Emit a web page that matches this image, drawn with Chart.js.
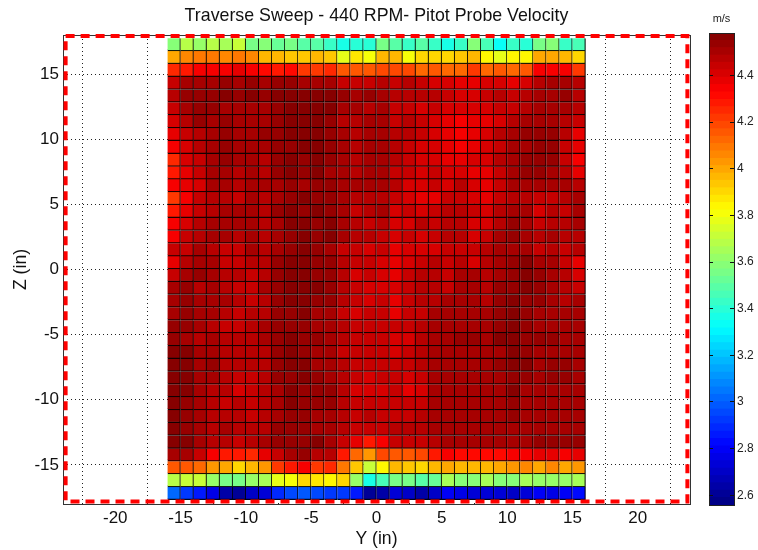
<!DOCTYPE html>
<html><head><meta charset="utf-8">
<script src="https://cdn.jsdelivr.net/npm/chart.js@4/dist/chart.umd.min.js"></script>
<style>html,body{margin:0;padding:0;background:#fff;overflow:hidden}
#wrap{position:relative;width:758px;height:550px}
canvas{position:absolute;top:0}
#main{left:0}#bar{left:698px}</style></head>
<body><div id="wrap"><canvas id="main" width="758" height="550"></canvas><canvas id="bar" width="60" height="550"></canvas></div>
<script>
const titleText = "Traverse Sweep - 440 RPM- Pitot Probe Velocity";
const xLabel = "Y (in)", yLabel = "Z (in)", unitLabel = "m/s";
const xTicks = [-20,-15,-10,-5,0,5,10,15,20];
const yTicks = [-15,-10,-5,0,5,10,15];
const cbTicks = [2.6,2.8,3,3.2,3.4,3.6,3.8,4,4.2,4.4];
const colorMin = 2.558, colorMax = 4.582;
const yCenters = [-15.5,-14.5,-13.5,-12.5,-11.5,-10.5,-9.5,-8.5,-7.5,-6.5,-5.5,-4.5,-3.5,-2.5,-1.5,-0.5,0.5,1.5,2.5,3.5,4.5,5.5,6.5,7.5,8.5,9.5,10.5,11.5,12.5,13.5,14.5,15.5];
const zEdges = [17.76,16.78,15.79,14.81,13.82,12.84,11.86,10.87,9.89,8.90,7.92,6.94,5.95,4.97,3.98,3.00,2.02,1.03,0.05,-0.94,-1.92,-2.90,-3.89,-4.87,-5.86,-6.84,-7.82,-8.81,-9.79,-10.78,-11.76,-12.74,-13.73,-14.71,-15.70,-16.68,-17.66];
const boxX = [-23.8,23.8,23.8,-23.8,-23.8];
const boxZ = [17.92,17.92,-17.8,-17.8,17.92];
const cbEdges = [2.558,2.590,2.621,2.653,2.684,2.716,2.748,2.779,2.811,2.843,2.874,2.906,2.938,2.969,3.001,3.032,3.064,3.096,3.127,3.159,3.191,3.222,3.254,3.285,3.317,3.349,3.380,3.412,3.444,3.475,3.507,3.538,3.570,3.602,3.633,3.665,3.697,3.728,3.760,3.791,3.823,3.855,3.886,3.918,3.950,3.981,4.013,4.044,4.076,4.108,4.139,4.171,4.203,4.234,4.266,4.297,4.329,4.361,4.392,4.424,4.456,4.487,4.519,4.550,4.582];

const row01=[3.60,3.69,3.63,3.69,3.66,3.70,3.56,3.58,3.52,3.55,3.50,3.49,3.44,3.38,3.40,3.40,3.55,3.49,3.44,3.49,3.43,3.38,3.44,3.58,3.46,3.32,3.42,3.40,3.56,3.58,3.42,3.46];
const row02=[3.99,4.05,4.09,4.08,4.07,4.10,4.05,3.97,3.96,3.94,3.93,3.95,3.94,3.78,3.86,3.82,3.95,3.97,3.82,3.90,3.90,3.89,3.93,3.95,3.85,3.78,3.83,3.83,4.00,4.01,3.98,3.91];
const row03=[4.24,4.28,4.36,4.36,4.36,4.37,4.33,4.30,4.29,4.30,4.21,4.21,4.26,4.17,4.16,4.17,4.20,4.19,4.18,4.13,4.14,4.13,4.11,4.22,4.13,4.16,4.13,4.17,4.33,4.34,4.34,4.23];
const row04=[4.44,4.49,4.50,4.51,4.52,4.51,4.53,4.50,4.52,4.53,4.51,4.51,4.50,4.45,4.44,4.45,4.47,4.44,4.46,4.43,4.42,4.41,4.39,4.37,4.40,4.41,4.39,4.41,4.47,4.50,4.50,4.46];
const row05=[4.46,4.53,4.53,4.52,4.56,4.53,4.56,4.55,4.58,4.58,4.57,4.57,4.56,4.52,4.51,4.53,4.51,4.48,4.47,4.46,4.46,4.45,4.42,4.42,4.44,4.46,4.44,4.48,4.50,4.51,4.54,4.47];
const row06=[4.43,4.50,4.52,4.52,4.51,4.50,4.51,4.51,4.54,4.57,4.57,4.57,4.56,4.50,4.49,4.48,4.49,4.45,4.45,4.42,4.43,4.40,4.40,4.40,4.42,4.44,4.45,4.48,4.49,4.51,4.49,4.46];
const row07=[4.40,4.46,4.52,4.51,4.52,4.49,4.50,4.51,4.54,4.58,4.57,4.58,4.55,4.48,4.48,4.49,4.49,4.45,4.48,4.44,4.42,4.39,4.36,4.39,4.39,4.42,4.48,4.49,4.51,4.51,4.46,4.44];
const row08=[4.37,4.44,4.47,4.50,4.53,4.49,4.51,4.54,4.55,4.57,4.58,4.58,4.54,4.50,4.48,4.51,4.51,4.46,4.47,4.44,4.42,4.39,4.36,4.39,4.40,4.46,4.50,4.52,4.53,4.53,4.46,4.39];
const row09=[4.35,4.41,4.46,4.50,4.52,4.50,4.49,4.51,4.52,4.55,4.56,4.57,4.54,4.50,4.47,4.50,4.49,4.47,4.43,4.41,4.42,4.39,4.36,4.39,4.41,4.44,4.50,4.50,4.52,4.52,4.44,4.37];
const row10=[4.25,4.41,4.44,4.50,4.52,4.49,4.49,4.48,4.53,4.56,4.55,4.58,4.55,4.49,4.47,4.49,4.51,4.46,4.43,4.41,4.41,4.39,4.37,4.40,4.42,4.46,4.50,4.54,4.54,4.52,4.43,4.33];
const row11=[4.29,4.39,4.43,4.49,4.50,4.46,4.49,4.48,4.53,4.56,4.54,4.58,4.51,4.49,4.46,4.49,4.50,4.45,4.43,4.42,4.43,4.40,4.41,4.39,4.38,4.44,4.50,4.54,4.54,4.50,4.46,4.37];
const row12=[4.34,4.37,4.42,4.49,4.49,4.46,4.49,4.50,4.51,4.55,4.51,4.55,4.54,4.50,4.49,4.50,4.51,4.47,4.42,4.41,4.43,4.40,4.46,4.41,4.39,4.44,4.49,4.50,4.50,4.51,4.49,4.47];
const row13=[4.23,4.36,4.43,4.48,4.46,4.45,4.49,4.47,4.51,4.54,4.56,4.54,4.53,4.49,4.46,4.46,4.46,4.44,4.41,4.39,4.39,4.44,4.43,4.40,4.38,4.43,4.48,4.46,4.43,4.43,4.48,4.49];
const row14=[4.29,4.39,4.43,4.46,4.50,4.49,4.49,4.48,4.52,4.56,4.55,4.56,4.53,4.49,4.45,4.46,4.49,4.42,4.43,4.41,4.45,4.46,4.46,4.43,4.42,4.46,4.49,4.50,4.42,4.46,4.45,4.49];
const row15=[4.33,4.41,4.46,4.50,4.49,4.49,4.49,4.47,4.51,4.56,4.57,4.55,4.57,4.49,4.47,4.44,4.46,4.42,4.42,4.46,4.45,4.47,4.46,4.42,4.41,4.46,4.52,4.49,4.45,4.46,4.46,4.50];
const row16=[4.36,4.43,4.46,4.49,4.50,4.46,4.49,4.47,4.51,4.55,4.58,4.54,4.56,4.50,4.46,4.46,4.45,4.42,4.45,4.42,4.45,4.46,4.48,4.42,4.45,4.49,4.55,4.51,4.47,4.49,4.46,4.48];
const row17=[4.43,4.45,4.49,4.48,4.45,4.45,4.49,4.46,4.50,4.54,4.58,4.53,4.51,4.45,4.43,4.41,4.43,4.38,4.42,4.41,4.41,4.45,4.45,4.43,4.46,4.50,4.51,4.49,4.44,4.46,4.45,4.46];
const row18=[4.39,4.46,4.50,4.49,4.45,4.45,4.46,4.48,4.52,4.56,4.58,4.54,4.53,4.46,4.43,4.43,4.42,4.39,4.42,4.45,4.46,4.45,4.46,4.42,4.46,4.51,4.54,4.57,4.51,4.49,4.45,4.39];
const row19=[4.45,4.50,4.52,4.51,4.46,4.46,4.45,4.48,4.52,4.58,4.58,4.55,4.54,4.46,4.42,4.43,4.41,4.37,4.43,4.46,4.46,4.45,4.49,4.49,4.48,4.51,4.55,4.57,4.52,4.50,4.47,4.40];
const row20=[4.49,4.53,4.48,4.50,4.46,4.45,4.45,4.49,4.54,4.58,4.58,4.56,4.53,4.46,4.43,4.41,4.41,4.41,4.44,4.46,4.46,4.45,4.49,4.50,4.48,4.54,4.55,4.57,4.52,4.50,4.47,4.45];
const row21=[4.50,4.53,4.51,4.51,4.49,4.46,4.45,4.47,4.55,4.58,4.58,4.55,4.53,4.48,4.43,4.42,4.43,4.38,4.43,4.46,4.48,4.51,4.49,4.50,4.47,4.55,4.58,4.55,4.52,4.50,4.48,4.49];
const row22=[4.50,4.52,4.49,4.49,4.46,4.43,4.47,4.48,4.55,4.55,4.58,4.51,4.50,4.45,4.42,4.43,4.44,4.39,4.43,4.45,4.49,4.51,4.49,4.51,4.49,4.54,4.58,4.54,4.51,4.51,4.49,4.49];
const row23=[4.53,4.53,4.49,4.46,4.43,4.43,4.46,4.50,4.55,4.55,4.55,4.51,4.50,4.46,4.43,4.44,4.43,4.43,4.43,4.46,4.50,4.51,4.50,4.51,4.51,4.54,4.58,4.53,4.51,4.51,4.50,4.50];
const row24=[4.53,4.51,4.48,4.49,4.46,4.46,4.46,4.50,4.55,4.56,4.53,4.52,4.50,4.46,4.43,4.44,4.43,4.42,4.42,4.46,4.51,4.51,4.53,4.54,4.51,4.56,4.58,4.55,4.52,4.52,4.49,4.50];
const row25=[4.56,4.58,4.49,4.49,4.46,4.46,4.47,4.47,4.52,4.56,4.53,4.50,4.49,4.45,4.43,4.43,4.43,4.42,4.43,4.46,4.49,4.49,4.51,4.50,4.50,4.51,4.58,4.53,4.51,4.51,4.49,4.49];
const row26=[4.57,4.57,4.50,4.52,4.46,4.46,4.46,4.48,4.52,4.56,4.56,4.50,4.50,4.47,4.43,4.43,4.44,4.44,4.43,4.46,4.50,4.50,4.51,4.50,4.50,4.53,4.57,4.56,4.51,4.53,4.54,4.51];
const row27=[4.58,4.56,4.51,4.51,4.46,4.43,4.45,4.46,4.52,4.55,4.56,4.52,4.50,4.48,4.43,4.42,4.44,4.43,4.42,4.44,4.50,4.50,4.49,4.50,4.49,4.51,4.55,4.52,4.50,4.53,4.54,4.50];
const row28=[4.57,4.57,4.51,4.48,4.46,4.42,4.45,4.48,4.51,4.56,4.55,4.53,4.53,4.47,4.42,4.42,4.41,4.45,4.39,4.41,4.49,4.49,4.50,4.49,4.49,4.51,4.57,4.51,4.49,4.50,4.51,4.50];
const row29=[4.57,4.54,4.50,4.46,4.43,4.46,4.43,4.48,4.51,4.56,4.55,4.53,4.52,4.46,4.43,4.43,4.43,4.45,4.43,4.44,4.49,4.50,4.50,4.51,4.50,4.50,4.52,4.50,4.50,4.49,4.49,4.49];
const row30=[4.57,4.53,4.49,4.46,4.48,4.46,4.44,4.46,4.51,4.55,4.54,4.51,4.51,4.46,4.44,4.46,4.45,4.44,4.44,4.47,4.50,4.50,4.50,4.50,4.50,4.50,4.52,4.50,4.50,4.50,4.51,4.50];
const row31=[4.57,4.54,4.50,4.48,4.49,4.46,4.46,4.48,4.52,4.55,4.54,4.51,4.51,4.48,4.43,4.45,4.44,4.46,4.46,4.48,4.49,4.50,4.50,4.50,4.50,4.50,4.51,4.50,4.50,4.50,4.50,4.51];
const row32=[4.58,4.57,4.51,4.48,4.46,4.43,4.46,4.49,4.54,4.55,4.54,4.56,4.51,4.44,4.37,4.29,4.33,4.43,4.45,4.45,4.47,4.51,4.50,4.50,4.50,4.50,4.49,4.49,4.52,4.54,4.54,4.52];
const row33=[4.49,4.50,4.43,4.33,4.29,4.27,4.25,4.38,4.45,4.50,4.54,4.47,4.46,4.28,4.13,4.03,4.18,4.15,4.17,4.19,4.27,4.33,4.31,4.30,4.30,4.31,4.33,4.36,4.37,4.39,4.36,4.39];
const row34=[4.16,4.17,4.12,4.03,3.99,3.90,3.98,4.03,4.23,4.27,4.33,4.21,4.26,4.08,3.93,3.72,3.85,3.95,3.92,3.89,3.95,4.00,3.98,3.98,3.95,3.99,4.03,4.06,4.01,4.06,4.01,4.03];
const row35=[3.69,3.72,3.72,3.63,3.55,3.56,3.63,3.66,3.78,3.82,3.89,3.88,3.85,3.90,3.61,3.36,3.47,3.54,3.55,3.49,3.53,3.64,3.60,3.58,3.64,3.60,3.60,3.64,3.61,3.61,3.61,3.66];
const row36=[3.01,2.93,2.86,2.75,2.63,2.61,2.71,2.74,2.89,2.95,2.97,2.94,2.92,2.92,2.87,2.61,2.63,2.72,2.69,2.63,2.69,2.81,2.75,2.74,2.72,2.74,2.71,2.74,2.81,2.75,2.81,2.84];
const rows=[row01,row02,row03,row04,row05,row06,row07,row08,row09,row10,row11,row12,row13,row14,row15,row16,row17,row18,row19,row20,row21,row22,row23,row24,row25,row26,row27,row28,row29,row30,row31,row32,row33,row34,row35,row36];

const FONT = '"Liberation Sans", Arial, sans-serif';
function jetRGB(v){
  const lvl=Math.max(0,Math.min(63,Math.floor((v-colorMin)/(colorMax-colorMin)*64)));
  const t=(lvl+0.5)/64, c=x=>Math.round(255*Math.max(0,Math.min(1,x)));
  return [c(Math.min(4*t-1.5,-4*t+4.5)),c(Math.min(4*t-0.5,-4*t+3.5)),c(Math.min(4*t+0.5,-4*t+2.5))];
}
const jet=v=>{const c=jetRGB(v);return `rgb(${c[0]},${c[1]},${c[2]})`;};
const edge=v=>{const c=jetRGB(v);return `rgb(${c.map(x=>Math.round(x*0.12)).join(',')})`;};

function strokeFrame(ch,color){
  const {left,right,top,bottom}=ch.chartArea,g=ch.ctx;
  g.save();g.strokeStyle=color;g.lineWidth=1;
  g.strokeRect(Math.round(left)+.5,Math.round(top)+.5,Math.round(right-left),Math.round(bottom-top));g.restore();
}
const frameBelow={id:'frameBelow',beforeDatasetsDraw(ch){strokeFrame(ch,'#333');}};
const frameAbove={id:'frameAbove',afterDatasetsDraw(ch){strokeFrame(ch,'#222');}};

const cellSets=rows.map((vals,r)=>({
  type:'bar',
  data:vals.map((v,c)=>({x:yCenters[c],y:[zEdges[r+1],zEdges[r]],v})),
  backgroundColor:vals.map(jet),
  borderColor:vals.map(edge),
  borderWidth:{top:0,left:0,right:1.25,bottom:1.25},
  borderSkipped:false,
  grouped:false,categoryPercentage:1,barPercentage:1,order:2
}));
const boxSet={type:'line',data:boxX.map((x,i)=>({x,y:boxZ[i]})),borderColor:'#ff0000',borderWidth:4,
  borderDash:[9,6],pointRadius:0,fill:false,tension:0,order:0,borderCapStyle:'butt',clip:false};

new Chart(document.getElementById('main'),{
  type:'bar',
  data:{datasets:[...cellSets,boxSet]},
  plugins:[frameBelow],
  options:{responsive:false,animation:false,events:[],
    layout:{padding:{left:0,right:68,top:0,bottom:0}},
    plugins:{legend:{display:false},tooltip:{enabled:false},
      title:{display:true,text:titleText,fullSize:false,color:'#111',font:{family:FONT,size:17.8,weight:'normal',lineHeight:1},padding:{top:7,bottom:10.2}}},
    scales:{
      x:{type:'linear',offset:false,min:-24,max:24,afterBuildTicks:s=>{s.ticks=xTicks.map(value=>({value}));},
        afterFit:s=>{s.height=46;},
        title:{display:true,text:xLabel,color:'#111',font:{family:FONT,size:17.6},padding:{top:0,bottom:0}},
        ticks:{color:'#111',font:{family:FONT,size:17},padding:4,maxRotation:0,autoSkip:false,callback:v=>String(v)},
        border:{display:false,dash:[1,3]},
        grid:{color:'#222',lineWidth:1,drawTicks:false,tickLength:0}},
      y:{min:-18,max:18,afterBuildTicks:s=>{s.ticks=yTicks.map(value=>({value}));},
        afterFit:s=>{s.width=63;},
        title:{display:true,text:yLabel,color:'#111',font:{family:FONT,size:17.6},padding:{top:11,bottom:0}},
        ticks:{color:'#111',font:{family:FONT,size:17},padding:4,autoSkip:false,callback:v=>String(v)},
        border:{display:false,dash:[1,3]},
        grid:{color:'#222',lineWidth:1,drawTicks:false,tickLength:0}}
    }}
});

const bandSets=cbEdges.slice(0,-1).map((lo,i)=>({
  data:[[lo,cbEdges[i+1]]],backgroundColor:jet((lo+cbEdges[i+1])/2),borderWidth:0,inflateAmount:0.5,
  grouped:false,categoryPercentage:1,barPercentage:1
}));
new Chart(document.getElementById('bar'),{
  type:'bar',
  data:{labels:[''],datasets:bandSets},
  plugins:[frameAbove],
  options:{responsive:false,animation:false,events:[],
    layout:{padding:{left:11,right:0,top:0,bottom:45}},
    plugins:{legend:{display:false},tooltip:{enabled:false},
      title:{display:true,text:unitLabel,fullSize:false,color:'#222',font:{family:FONT,size:11,weight:'normal',lineHeight:1},padding:{top:13,bottom:9}}},
    scales:{
      x:{display:false},
      y:{position:'right',min:colorMin,max:colorMax,afterBuildTicks:s=>{s.ticks=cbTicks.map(value=>({value}));},
        afterFit:s=>{s.width=24;},
        ticks:{color:'#222',font:{family:FONT,size:12},padding:3,autoSkip:false,callback:v=>String(v)},
        border:{display:false,dash:[4,17]},
        grid:{z:1,color:'#111',drawTicks:false,tickLength:0}}
    }}
});
</script></body></html>
